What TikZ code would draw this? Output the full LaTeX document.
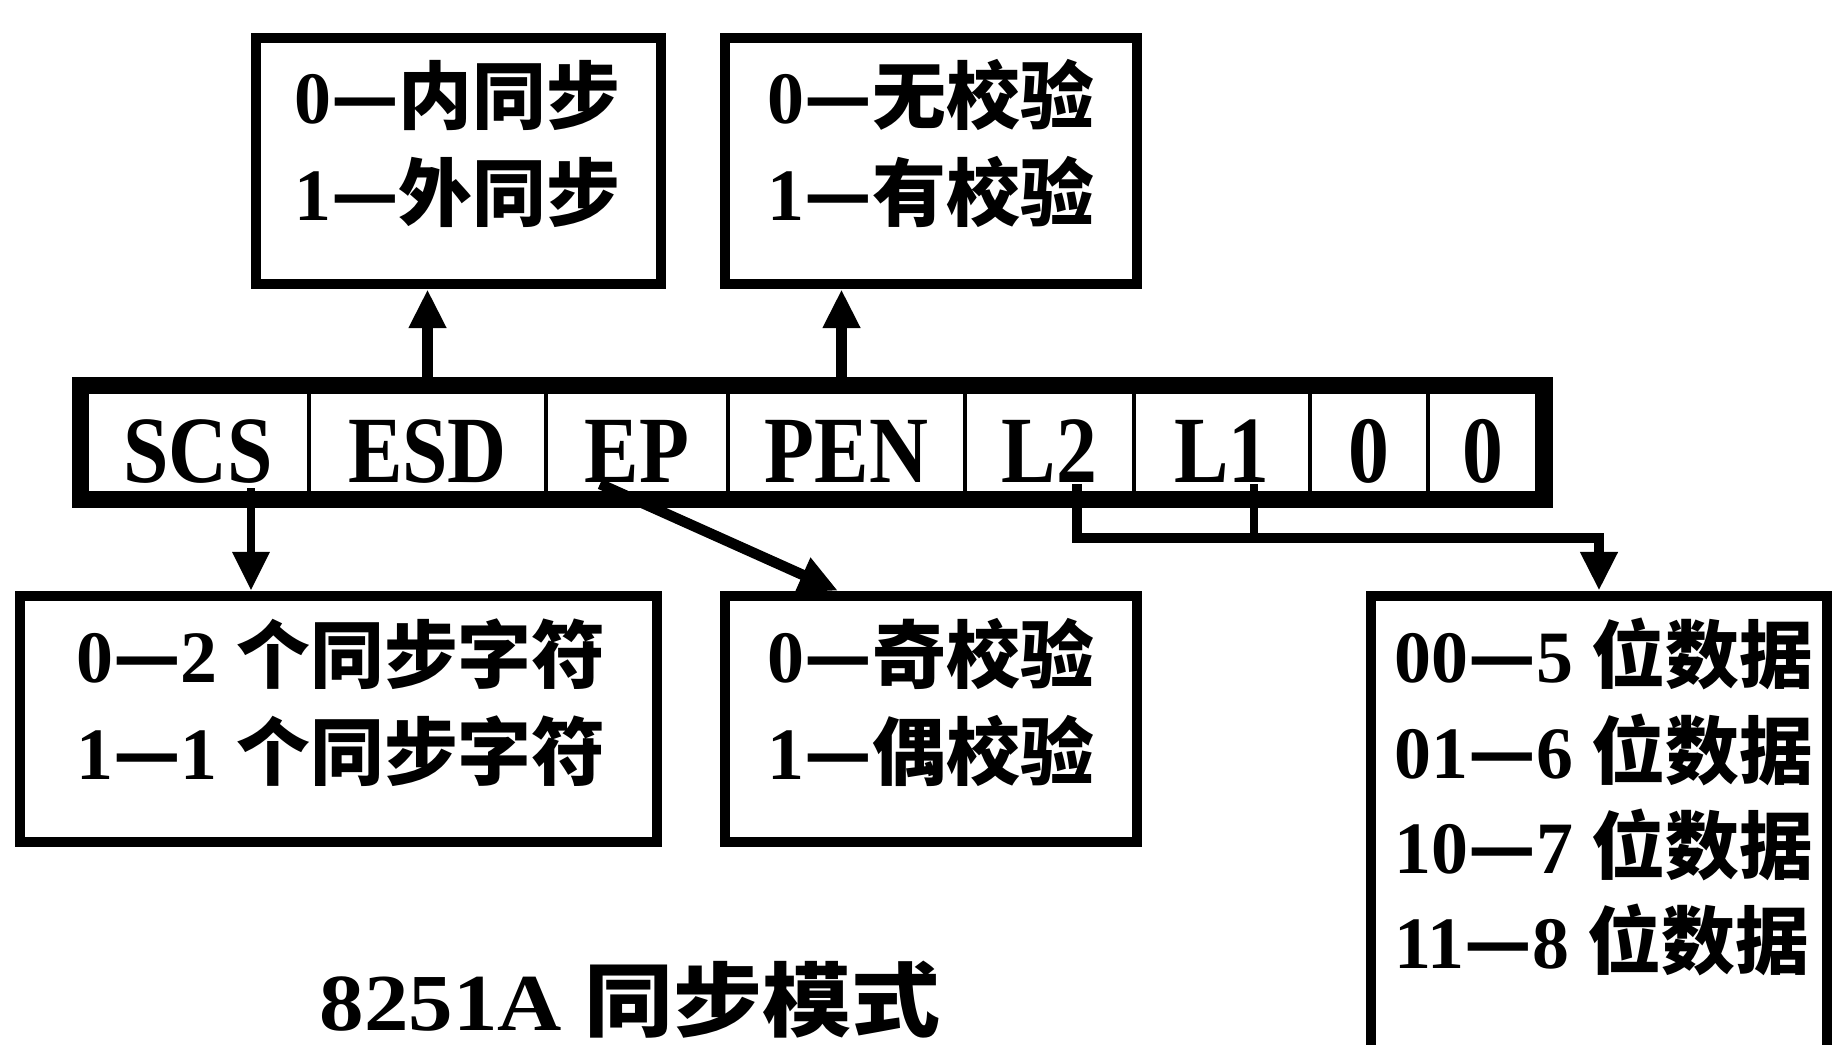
\documentclass[tikz,border=0pt]{standalone}
\usepackage{fontspec}
\usepackage{graphicx}
\setmainfont{Liberation Serif}
\newfontfamily\regfont{Liberation Serif}[FakeStretch=0.86]
\newfontfamily\cjk{Noto Sans CJK SC}
\usetikzlibrary{arrows.meta}
\newcommand\mydg[1]{{\rmfamily\bfseries #1}}
\newcommand\mycj[1]{{\cjk\bfseries #1}}
\begin{document}
\begin{tikzpicture}[x=0.01cm,y=-0.01cm,
  box/.style={draw,line width=3pt,inner sep=0pt},
  cell/.style={draw,line width=1.3pt,inner sep=0pt,minimum height=1.01cm,
    text height=0.79cm,text depth=0pt,
    font=\fontsize{27}{30}\selectfont\regfont\bfseries},
  regframe/.style={draw,line width=4.3pt,inner sep=0pt},
  txt/.style={inner sep=0pt,anchor=base,font=\fontsize{21}{25}\selectfont},
  txtl/.style={txt,anchor=base west},
  bigarrow/.style={line width=3pt,-{Triangle[length=11pt,width=10pt]}},
  midarrow/.style={line width=2.4pt,-{Triangle[length=11pt,width=10pt]}},
  thinline/.style={line width=2.4pt}
]
\useasboundingbox (0,0) rectangle (1837,1044);
\clip (0,0) rectangle (1837,1044);
\fill[white] (0,0) rectangle (1837,1044);

% upper boxes
\node[box,minimum width=4.05cm,minimum height=2.46cm] (tl) at (458.5,161) {};
\node[box,minimum width=4.12cm,minimum height=2.46cm] (tm) at (931,161) {};
% lower boxes
\node[box,minimum width=6.37cm,minimum height=2.46cm] (bl) at (338.5,719) {};
\node[box,minimum width=4.12cm,minimum height=2.46cm] (bm) at (931,719) {};
\node[box,minimum width=4.56cm,minimum height=4.74cm] (br) at (1599,833) {};

% register cells
\node[cell,minimum width=2.22cm] (cSCS) at (198,442.5) {SCS};
\node[cell,minimum width=2.37cm] (cESD) at (427.5,442.5) {ESD};
\node[cell,minimum width=1.82cm] (cEP) at (637,442.5) {EP};
\node[cell,minimum width=2.37cm] (cPEN) at (846.5,442.5) {PEN};
\node[cell,minimum width=1.69cm] (cL2) at (1049.5,442.5) {L2};
\node[cell,minimum width=1.76cm] (cL1) at (1222,442.5) {L1};
\node[cell,minimum width=1.18cm] (cB1) at (1369,442.5) {0};
\node[cell,minimum width=1.09cm] (cB0) at (1482.5,442.5) {0};
\node[regframe,minimum width=14.65cm,minimum height=1.16cm] (reg) at (812,442.5) {};

% texts
\node[txt] (tla) at (457.5,123) {\mydg{0}\mycj{—内同步}};
\node[txt] (tlb) at (457.5,220) {\mydg{1}\mycj{—外同步}};
\node[txt] (tma) at (931,123) {\mydg{0}\mycj{—无校验}};
\node[txt] (tmb) at (931,220) {\mydg{1}\mycj{—有校验}};
\node[txt] (bla) at (341,682) {\mydg{0}\mycj{—}\mydg{2} \mycj{个同步字符}};
\node[txt] (blb) at (341,779) {\mydg{1}\mycj{—}\mydg{1} \mycj{个同步字符}};
\node[txt] (bma) at (931,682) {\mydg{0}\mycj{—奇校验}};
\node[txt] (bmb) at (931,779) {\mydg{1}\mycj{—偶校验}};
\node[txtl] (bra) at (1394,682) {\mydg{00}\mycj{—}\mydg{5} \mycj{位数据}};
\node[txtl] (brb) at (1394,778) {\mydg{01}\mycj{—}\mydg{6} \mycj{位数据}};
\node[txtl] (brc) at (1394,873) {\mydg{10}\mycj{—}\mydg{7} \mycj{位数据}};
\node[txtl] (brd) at (1394,968) {\mydg{11}\mycj{—}\mydg{8} \mycj{位数据}};
\node[txt,font=\fontsize{23}{27}\selectfont] (title) at (630,1030)
  {\scalebox{1.1}[1]{\mydg{8251A} \mycj{同步模式}}};

% connectors
\draw[bigarrow] (cESD.center |- reg.north) -- (cESD.center |- tl.south);
\draw[bigarrow] ([xshift=-0.05cm]cPEN.center |- reg.north) -- ([xshift=-0.05cm]cPEN.center |- tm.south);
\coordinate (scsfoot) at (251,488);
\draw[midarrow] (scsfoot) -- (scsfoot |- bl.north);
\coordinate (epfoot) at (600,484);
\draw[bigarrow] (epfoot) -- ([xshift=-0.93cm]bm.north);
\coordinate (l2foot) at (1077,484);
\coordinate (bend) at (1599,538);
\draw[bigarrow] (l2foot) |- (bend) -- (bend |- br.north);
\coordinate (l1foot) at (1254,484);
\draw[thinline] (l1foot) -- (l1foot |- bend);
\end{tikzpicture}
\end{document}
